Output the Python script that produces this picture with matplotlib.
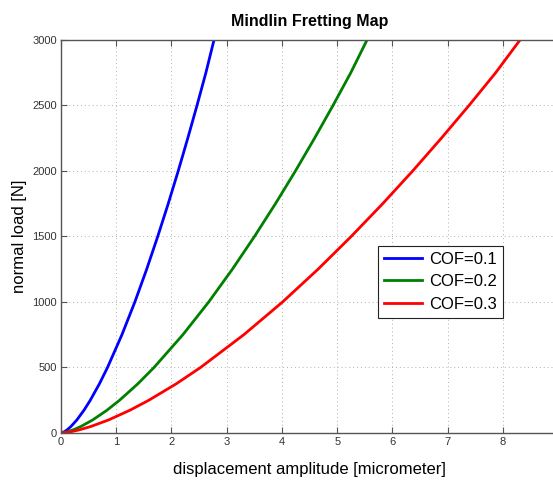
import matplotlib
matplotlib.use("Agg")
import matplotlib.pyplot as plt

# normal load [N]
load = [0, 10, 25, 50, 100, 175, 250, 375, 500, 750, 1000, 1250, 1500, 1750, 2000, 2250, 2500, 2750, 3000]

# displacement amplitude [micrometer] for each COF
disp_01 = [0, 0.062, 0.114, 0.181, 0.288, 0.418, 0.530, 0.695, 0.842, 1.103, 1.337, 1.551, 1.751, 1.941, 2.122, 2.295, 2.462, 2.623, 2.77]
disp_02 = [0, 0.124, 0.228, 0.362, 0.576, 0.836, 1.06, 1.39, 1.684, 2.206, 2.674, 3.102, 3.502, 3.882, 4.244, 4.59, 4.924, 5.246, 5.54]
disp_03 = [0, 0.186, 0.342, 0.543, 0.864, 1.254, 1.59, 2.085, 2.526, 3.309, 4.011, 4.653, 5.253, 5.823, 6.366, 6.885, 7.386, 7.869, 8.31]

labels = ["COF=0.1", "COF=0.2", "COF=0.3"]
colors = ["#0000ff", "#008000", "#ff0000"]

plt.rcParams['font.family'] = ['Liberation Sans', 'DejaVu Sans']

fig = plt.figure(figsize=(5.53, 4.84), dpi=100)
ax = fig.add_axes([0.1103, 0.1054, 0.899, 0.812])

for d, lab, c in zip([disp_01, disp_02, disp_03], labels, colors):
    ax.plot(d, load, color=c, linewidth=2.0, label=lab, solid_joinstyle="round")

ax.set_xlim(0, 9)
ax.set_ylim(0, 3000)
ax.set_xticks(range(0, 9))
ax.set_yticks(range(0, 3001, 500))
ax.grid(True, linestyle=(0, (1, 3)), color="#b0b0b0", linewidth=0.7)

for s in ax.spines.values():
    s.set_color("#555555")
    s.set_linewidth(1.0)
ax.tick_params(direction="in", top=True, right=False, length=4, color="#555555",
               labelsize=8, labelcolor="#333333", pad=3)

ax.set_title("Mindlin Fretting Map", fontsize=11.5, fontweight="bold", pad=10)
ax.set_xlabel("displacement amplitude [micrometer]", fontsize=12, labelpad=11)
ax.set_ylabel("normal load [N]", fontsize=12, labelpad=4)

leg = ax.legend(loc="upper left", bbox_to_anchor=(0.638, 0.476), borderaxespad=0,
                fontsize=12, frameon=True, fancybox=False, framealpha=1,
                edgecolor="#222222", handlelength=2.3, borderpad=0.35,
                labelspacing=0.45, handletextpad=0.4)
leg.get_frame().set_linewidth(0.8)

fig.savefig("out.png", dpi=100)
